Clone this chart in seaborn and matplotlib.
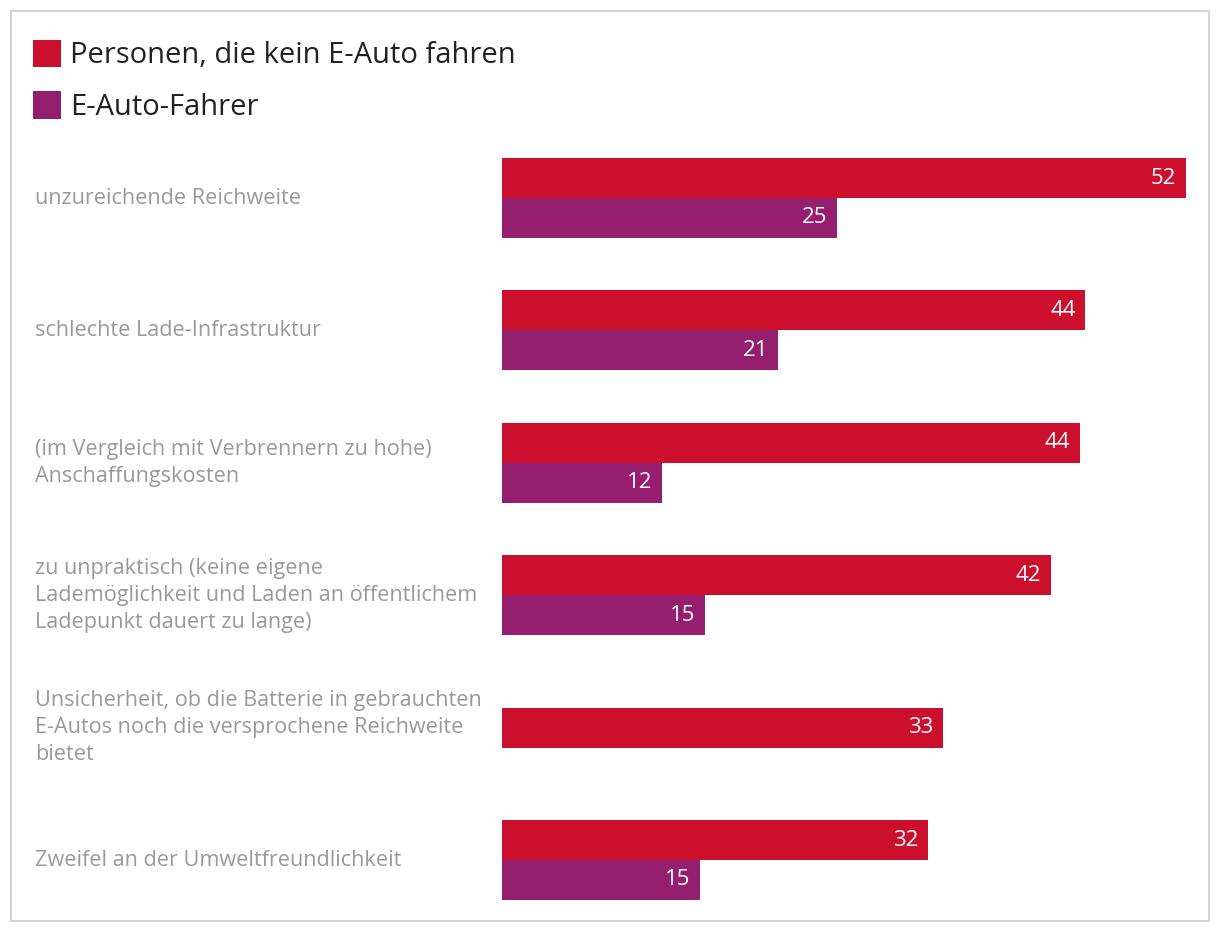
import numpy as np
import pandas as pd
import seaborn as sns
import matplotlib.pyplot as plt
from matplotlib.patches import Rectangle, Patch
from matplotlib.transforms import blended_transform_factory

# Daten
kategorien = [
    "unzureichende Reichweite",
    "schlechte Lade-Infrastruktur",
    "(im Vergleich mit Verbrennern zu hohe)\nAnschaffungskosten",
    "zu unpraktisch (keine eigene\nLademöglichkeit und Laden an öffentlichem\nLadepunkt dauert zu lange)",
    "Unsicherheit, ob die Batterie in gebrauchten\nE-Autos noch die versprochene Reichweite\nbietet",
    "Zweifel an der Umweltfreundlichkeit",
]
gruppen = ["Personen, die kein E-Auto fahren", "E-Auto-Fahrer"]
werte_kein_eauto = [51.8, 44.2, 43.8, 41.6, 33.4, 32.3]
werte_eauto = [25.4, 20.9, 12.1, 15.4, np.nan, 15.0]
labels_kein_eauto = [52, 44, 44, 42, 33, 32]
labels_eauto = [25, 21, 12, 15, None, 15]

farben = ["#CD0F2E", "#951E6E"]

df = pd.DataFrame({
    "kategorie": kategorien * 2,
    "gruppe": [gruppen[0]] * len(kategorien) + [gruppen[1]] * len(kategorien),
    "wert": werte_kein_eauto + werte_eauto,
})

sns.set_theme(style="white")
plt.rcParams["font.family"] = ["Open Sans", "DejaVu Sans"]

fig = plt.figure(figsize=(12.2, 9.34), dpi=100)
W, H = 1220, 934

# Achse in Pixeln: x=0 bei 502px, 13.2 px pro Einheit; Kategorien 198..860px
xmax = 54
ax = fig.add_axes([502 / W, 1 - 926.2 / H, xmax * 13.2 / W, (926.2 - 131.8) / H])

sns.barplot(
    data=df.dropna(subset=["wert"]),
    x="wert",
    y="kategorie",
    hue="gruppe",
    hue_order=gruppen,
    order=kategorien,
    palette=farben,
    orient="h",
    width=0.604,
    dodge=True,
    saturation=1,
    errorbar=None,
    legend=False,
    linewidth=0,
    edgecolor="none",
    ax=ax,
)

ax.set_xlim(0, xmax)
ax.set_ylim(len(kategorien) - 0.5, -0.5)
ax.axis("off")

# Einzelner Balken (keine Werte für E-Auto-Fahrer) mittig setzen
for patch in ax.containers[0]:
    idx = int(round(patch.get_y() + patch.get_height()))
    if np.isnan(werte_eauto[idx]):
        patch.set_y(idx - patch.get_height() / 2)

# Werte in den Balken
for i, cont in enumerate(ax.containers):
    werte_liste = labels_kein_eauto if i == 0 else labels_eauto
    for patch in cont:
        mitte = patch.get_y() + patch.get_height() / 2
        idx = int(round(mitte)) if i == 0 else int(round(mitte - 0.15))
        idx = min(max(idx, 0), len(kategorien) - 1)
        txt = werte_liste[idx]
        if txt is None:
            continue
        ax.annotate(
            str(txt),
            xy=(patch.get_width(), mitte),
            xytext=(-7, 0),
            textcoords="offset points",
            ha="right",
            va="center",
            color="white",
            fontsize=16,
        )

# Kategorie-Beschriftungen links
trans = blended_transform_factory(fig.transFigure, ax.transData)
for i, kat in enumerate(kategorien):
    ax.text(35 / W, i, kat, transform=trans, ha="left", va="center",
            color="#999999", fontsize=15.6, linespacing=1.38)

# Legende
handles = [Patch(facecolor=c, edgecolor="none") for c in farben]
fig.legend(
    handles, gruppen,
    loc="upper left",
    bbox_to_anchor=(33 / W, 1 - 40 / H),
    frameon=False,
    borderpad=0,
    borderaxespad=0,
    fontsize=21,
    handlelength=0.95,
    handleheight=1.05,
    handletextpad=0.33,
    labelspacing=0.72,
    labelcolor="#222222",
)

# Rahmen
fig.add_artist(Rectangle((11 / W, 1 - 921 / H), 1198 / W, 910 / H,
                         transform=fig.transFigure, fill=False,
                         edgecolor="#d3d3d3", linewidth=1.5))

fig.savefig("out.png", dpi=100, facecolor="white")
